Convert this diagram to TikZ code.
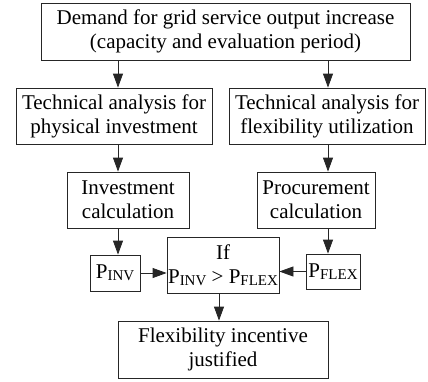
\documentclass[tikz,border=0pt]{standalone}
\usepackage{fontspec}
\setmainfont{Liberation Serif}
\usetikzlibrary{arrows.meta}
\newcommand{\sbs}[1]{\raisebox{-0.22ex}{\fontsize{15}{15}\selectfont #1}}
\begin{document}
\begin{tikzpicture}[x=1pt,y=-1pt,
  box/.style={draw=black!85,line width=0.8pt,inner sep=0pt,align=center,font=\fontsize{21}{24}\selectfont},
  arr/.style={draw=black!85,line width=0.8pt,-{Triangle[length=14pt,width=10pt]}}]
\useasboundingbox (0,0) rectangle (428,381);
\node[box,minimum width=369pt,minimum height=57pt] (top) at (225.5,31.5) {Demand for grid service output increase\\(capacity and evaluation period)};
\node[box,minimum width=196pt,minimum height=56pt] (tl) at (114,116) {Technical analysis for\\physical investment};
\node[box,minimum width=196pt,minimum height=56pt] (tr) at (327,116) {Technical analysis for\\flexibility utilization};
\node[box,minimum width=122pt,minimum height=56pt] (inv) at (128,200) {Investment\\calculation};
\node[box,minimum width=118pt,minimum height=56pt] (proc) at (316,200) {Procurement\\calculation};
\node[box,minimum width=50pt,minimum height=36pt] (pinv) at (115,273) {P\sbs{INV}};
\node[box,minimum width=112pt,minimum height=56pt] (if) at (223,265) {If\\P\sbs{INV} > P\sbs{FLEX}};
\node[box,minimum width=54pt,minimum height=35pt] (pflex) at (333,271.5) {P\sbs{FLEX}};
\node[box,minimum width=210pt,minimum height=57pt] (flex) at (223,349.5) {Flexibility incentive\\justified};
\coordinate (cl) at (118,0);
\coordinate (cr) at (328,0);
\coordinate (cm) at (219,0);
\draw[arr] (top.south -| cl) -- (tl.north -| cl);
\draw[arr] (top.south -| cr) -- (tr.north -| cr);
\draw[arr] (tl.south -| cl) -- (inv.north -| cl);
\draw[arr] (tr.south -| cr) -- (proc.north -| cr);
\draw[arr] (inv.south -| cl) -- (pinv.north -| cl);
\draw[arr] (proc.south -| cr) -- (pflex.north -| cr);
\draw[arr] (pinv.east) -- (pinv.east -| if.west);
\draw[arr] (pflex.west) -- (pflex.west -| if.east);
\draw[arr] (if.south -| cm) -- (flex.north -| cm);
\end{tikzpicture}
\end{document}
